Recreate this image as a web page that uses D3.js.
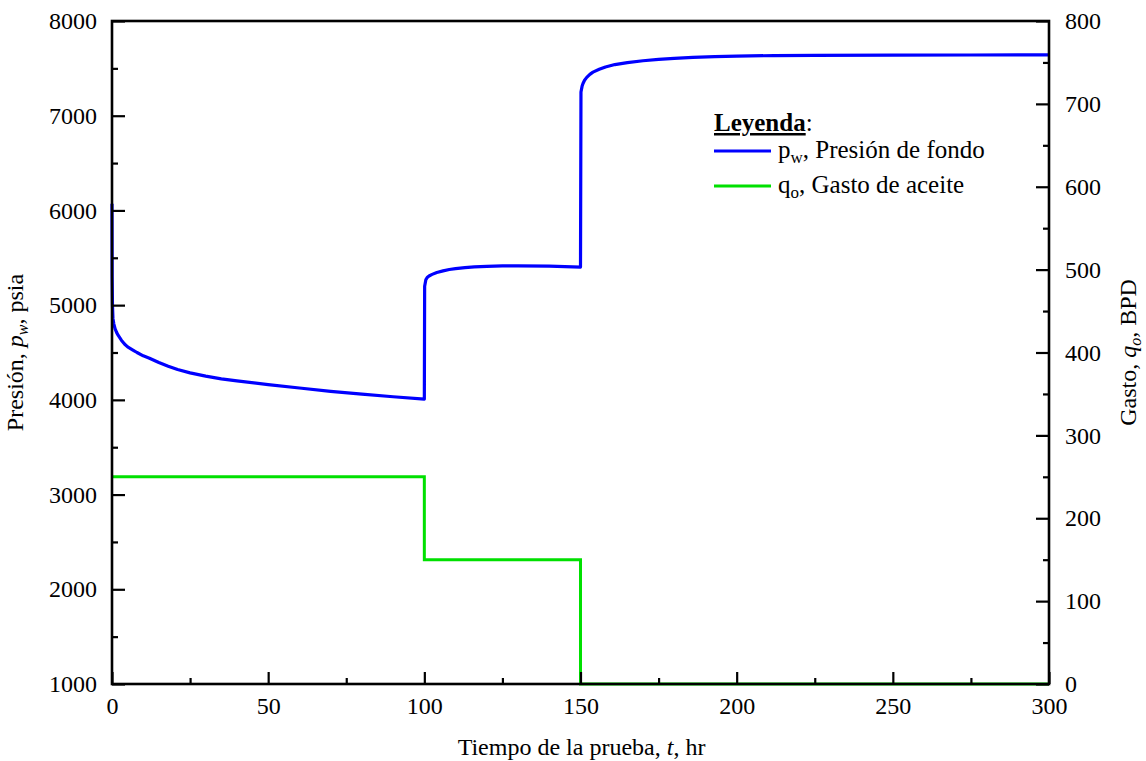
<!DOCTYPE html>
<html>
<head>
<meta charset="utf-8">
<script src="https://cdn.jsdelivr.net/npm/d3@7"></script>
<style>
  body { margin: 0; background: #fff; }
  svg text { font-family: "Liberation Serif", "Times New Roman", serif; fill: #000; }
</style>
</head>
<body>
<div id="chart"></div>
<script>
// pressure response
const pTime = [0, 0.05, 0.15, 0.3, 0.6, 1, 1.5, 2, 3, 4, 5, 6.7, 8, 10, 12, 15, 18, 21, 25, 30, 35, 40, 50, 60, 70, 80, 90, 100,
  100, 100.1, 100.5, 101, 101.5, 102.5, 104, 106, 108, 110, 113, 116, 120, 125, 130, 140, 150,
  150, 150.15, 150.5, 150.8, 151.3, 152, 153, 154, 156, 158, 161, 165, 170, 175, 180, 186, 193, 200, 212, 225, 250, 275, 300];
const pValue = [6070, 5300, 5000, 4860, 4800, 4750, 4710, 4680, 4630, 4590, 4560, 4526, 4500, 4465, 4440, 4395, 4355, 4320, 4285, 4250, 4222, 4200, 4160, 4125, 4090, 4060, 4033, 4008,
  4008, 5200, 5270, 5295, 5308, 5325, 5345, 5362, 5376, 5386, 5397, 5404, 5410, 5414, 5415, 5411, 5402,
  5402, 7250, 7310, 7340, 7375, 7405, 7437, 7460, 7490, 7515, 7540, 7560, 7580, 7594, 7605, 7615, 7623, 7629, 7635, 7638, 7640, 7641, 7642];

// oil rate steps
const qTime = [0, 100, 100, 150, 150, 300];
const qValue = [250, 250, 150, 150, 0, 0];

const xTicks = [0, 50, 100, 150, 200, 250, 300];
const yLeftTicks = [1000, 2000, 3000, 4000, 5000, 6000, 7000, 8000];
const yRightTicks = [0, 100, 200, 300, 400, 500, 600, 700, 800];

const W = 1146, H = 761;
const margin = { top: 21, right: 97, bottom: 77, left: 112 };
const width = W - margin.left - margin.right;
const height = H - margin.top - margin.bottom;

const svg = d3.select("#chart").append("svg")
  .attr("width", W).attr("height", H)
  .append("g")
  .attr("transform", `translate(${margin.left},${margin.top})`);

const x = d3.scaleLinear().domain([0, 300]).range([0, width]);
const yL = d3.scaleLinear().domain([1000, 8000]).range([height, 0]);
const yR = d3.scaleLinear().domain([0, 800]).range([height, 0]);

const pData = pTime.map((t, i) => ({ t, v: pValue[i] }));
const qData = qTime.map((t, i) => ({ t, v: qValue[i] }));

// curves
svg.append("path")
  .datum(qData)
  .attr("fill", "none")
  .attr("stroke", "#00e000")
  .attr("stroke-width", 3)
  .attr("d", d3.line().x(d => x(d.t)).y(d => yR(d.v)));

svg.append("path")
  .datum(pData)
  .attr("fill", "none")
  .attr("stroke", "#0000ff")
  .attr("stroke-width", 3.2)
  .attr("stroke-linejoin", "round")
  .attr("d", d3.line().x(d => x(d.t)).y(d => yL(d.v)));

// axes: ticks point inward
const fontSize = "24px";
function styleAxis(g) {
  g.select(".domain").remove();
  g.selectAll(".tick line").attr("stroke", "#000").attr("stroke-width", 2.2);
  g.selectAll(".tick text").style("font-size", fontSize).attr("fill", "#000");
}

svg.append("g")
  .attr("transform", `translate(0,${height})`)
  .call(d3.axisBottom(x).tickValues(xTicks).tickSize(-12).tickPadding(13))
  .call(styleAxis);
svg.append("g")
  .attr("transform", `translate(0,${height})`)
  .call(d3.axisBottom(x).tickValues(d3.range(25, 300, 50)).tickSize(-6).tickFormat(""))
  .call(styleAxis);

svg.append("g")
  .call(d3.axisLeft(yL).tickValues(yLeftTicks).tickSize(-13).tickPadding(15).tickFormat(d3.format("d")))
  .call(styleAxis);
svg.append("g")
  .call(d3.axisLeft(yL).tickValues(d3.range(1500, 8000, 1000)).tickSize(-6).tickFormat(""))
  .call(styleAxis);

svg.append("g")
  .attr("transform", `translate(${width},0)`)
  .call(d3.axisRight(yR).tickValues(yRightTicks).tickSize(-13).tickPadding(16).tickFormat(d3.format("d")))
  .call(styleAxis);
svg.append("g")
  .attr("transform", `translate(${width},0)`)
  .call(d3.axisRight(yR).tickValues(d3.range(50, 800, 100)).tickSize(-6).tickFormat(""))
  .call(styleAxis);

// frame
svg.append("rect")
  .attr("width", width).attr("height", height)
  .attr("fill", "none").attr("stroke", "#000").attr("stroke-width", 2.6);

// axis titles
const titleSize = 24;
const bottomTitle = svg.append("text")
  .attr("x", width / 2 + 1).attr("y", height + 71)
  .attr("text-anchor", "middle")
  .style("font-size", titleSize + "px");
bottomTitle.append("tspan").text("Tiempo de la prueba, ");
bottomTitle.append("tspan").style("font-style", "italic").text("t");
bottomTitle.append("tspan").text(", hr");

const leftTitle = svg.append("text")
  .attr("transform", `translate(-89,${height / 2}) rotate(-90)`)
  .attr("text-anchor", "middle")
  .style("font-size", titleSize + "px");
leftTitle.append("tspan").text("Presión, ");
leftTitle.append("tspan").style("font-style", "italic").text("p");
leftTitle.append("tspan").style("font-style", "italic").style("font-size", "16px").attr("dy", 5).text("w");
leftTitle.append("tspan").attr("dy", -5).text(", psia");

const rightTitle = svg.append("text")
  .attr("transform", `translate(${width + 87},${height / 2}) rotate(-90)`)
  .attr("text-anchor", "middle")
  .style("font-size", titleSize + "px");
rightTitle.append("tspan").text("Gasto, ");
rightTitle.append("tspan").style("font-style", "italic").text("q");
rightTitle.append("tspan").style("font-style", "italic").style("font-size", "16px").attr("dy", 5).text("o");
rightTitle.append("tspan").attr("dy", -5).text(", BPD");

// legend
const legendSize = "25px";
const legend = svg.append("g").attr("transform", `translate(${714 - margin.left},${131 - margin.top})`);
const lt = legend.append("text").attr("x", 0).attr("y", 0).style("font-size", legendSize);
lt.append("tspan").style("font-weight", "bold").style("text-decoration", "underline").text("Leyenda");
lt.append("tspan").text(":");

const items = [
  { color: "#0000ff", sym: "p", sub: "w", label: ", Presión de fondo" },
  { color: "#00e000", sym: "q", sub: "o", label: ", Gasto de aceite" }
];
items.forEach((it, i) => {
  const yy = 20 + i * 35;
  legend.append("line")
    .attr("x1", 0).attr("x2", 57).attr("y1", yy).attr("y2", yy)
    .attr("stroke", it.color).attr("stroke-width", 3.2);
  const t = legend.append("text").attr("x", 64).attr("y", yy + 7).style("font-size", legendSize);
  t.append("tspan").text(it.sym);
  t.append("tspan").style("font-size", "17px").attr("dy", 5).text(it.sub);
  t.append("tspan").attr("dy", -5).text(it.label);
});
</script>
</body>
</html>
